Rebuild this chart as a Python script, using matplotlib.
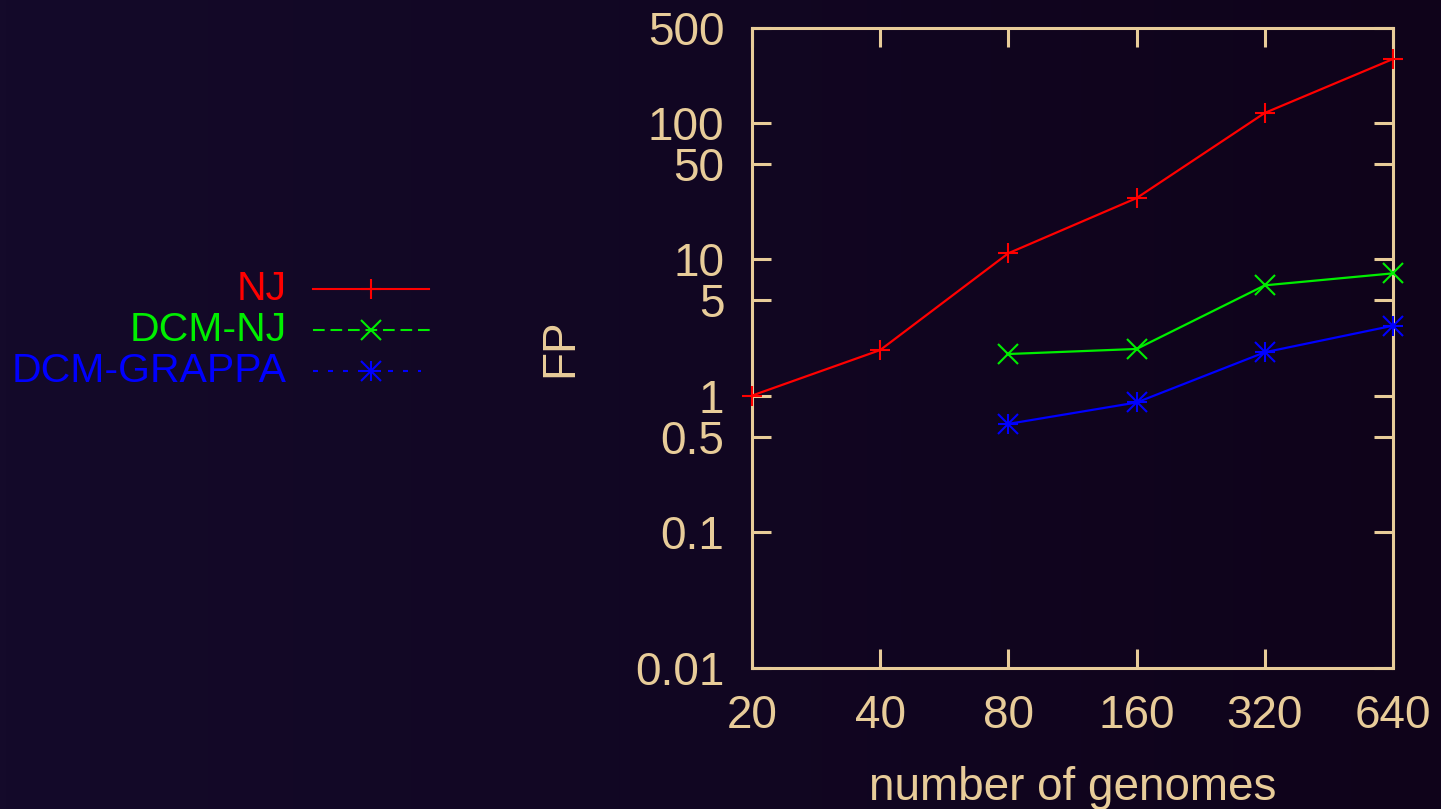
import numpy as np
import matplotlib
matplotlib.use("Agg")
import matplotlib.pyplot as plt
from matplotlib.lines import Line2D
from matplotlib.ticker import FixedLocator, FixedFormatter, NullLocator

plt.rcParams['font.family'] = ['Liberation Sans', 'DejaVu Sans']

# data (log-log plot)
genomes = [20, 40, 80, 160, 320, 640]
nj_genomes = [20, 40, 80, 160, 320, 640]
nj_fp = [1.0, 2.16, 11.1, 28.2, 119, 296]
dcm_genomes = [80, 160, 320, 640]
dcm_nj_fp = [2.02, 2.2, 6.45, 7.9]
dcm_grappa_fp = [0.62, 0.89, 2.08, 3.26]

x_tick_labels = ['20', '40', '80', '160', '320', '640']
y_ticks = [0.01, 0.1, 0.5, 1, 5, 10, 50, 100, 500]
y_tick_labels = ['0.01', '0.1', '0.5', '1', '5', '10', '50', '100', '500']

fg = '#e8cc99'
red = '#ff0000'
green = '#00ee00'
blue = '#0000ff'

W, H = 1441, 809
fig = plt.figure(figsize=(W / 100, H / 100), dpi=100)

# dark gradient background
bg = fig.add_axes([0, 0, 1, 1], zorder=-10)
left_col = np.array([20, 10, 42]) / 255.0
right_col = np.array([15, 3, 26]) / 255.0
t = np.linspace(0, 1, 256)[None, :, None]
grad = left_col * (1 - t) + right_col * t
bg.imshow(grad, aspect='auto', extent=[0, 1, 0, 1])
bg.set_axis_off()

ax = fig.add_axes([752 / W, 1 - 668 / H, (1393 - 752) / W, (668 - 28) / H])
ax.set_facecolor('none')
ax.set_xscale('log', base=2)
ax.set_yscale('log')
ax.set_xlim(20, 640)
ax.set_ylim(0.01, 500)

lw = 1.6
ms = 15
mew = 1.5
ax.plot(nj_genomes, nj_fp, color=red, lw=lw, marker='+', ms=ms, mew=mew, clip_on=False, zorder=5)
ax.plot(dcm_genomes, dcm_nj_fp, color=green, lw=lw, marker='x', ms=ms * 0.95, mew=mew, clip_on=False, zorder=5)
ax.plot(dcm_genomes, dcm_grappa_fp, color=blue, lw=lw, marker='+', ms=ms, mew=mew, clip_on=False, zorder=5)
ax.plot(dcm_genomes, dcm_grappa_fp, color=blue, lw=0, marker='x', ms=ms, mew=mew, clip_on=False, zorder=5)

ax.xaxis.set_major_locator(FixedLocator(genomes))
ax.xaxis.set_major_formatter(FixedFormatter(x_tick_labels))
ax.xaxis.set_minor_locator(NullLocator())
ax.yaxis.set_major_locator(FixedLocator(y_ticks))
ax.yaxis.set_major_formatter(FixedFormatter(y_tick_labels))
ax.yaxis.set_minor_locator(NullLocator())

for sp in ax.spines.values():
    sp.set_color(fg)
    sp.set_linewidth(2.2)

ax.tick_params(axis='both', which='major', direction='in', length=14, width=2.2,
               color=fg, labelcolor=fg, labelsize=33, top=True, right=True)
ax.tick_params(axis='y', pad=20)
ax.tick_params(axis='x', pad=19)

ax.set_xlabel('number of genomes', fontsize=33, color=fg, labelpad=20)
ax.set_ylabel('FP', fontsize=33, color=fg, labelpad=38)

# legend, drawn on the left side of the figure
legend_rows = [('NJ', red, '-', ['+'], 429),
               ('DCM-NJ', green, (0, (5.6, 2.8)), ['x'], 430),
               ('DCM-GRAPPA', blue, (0, (2.4, 4.8)), ['+', 'x'], 421)]
row_y = [289, 330, 371]
for (label, col, ls, marks, x_end), y in zip(legend_rows, row_y):
    yf = 1 - y / H
    fig.text(287 / W, yf, label, color=col, fontsize=29.5, ha='right', va='center')
    fig.add_artist(Line2D([313 / W, x_end / W], [yf, yf], color=col, lw=1.5, ls=ls,
                          transform=fig.transFigure))
    for m in marks:
        fig.add_artist(Line2D([371 / W], [yf], color=col, lw=0, marker=m, ms=14, mew=mew,
                              transform=fig.transFigure))

fig.savefig('out.png', dpi=100)
